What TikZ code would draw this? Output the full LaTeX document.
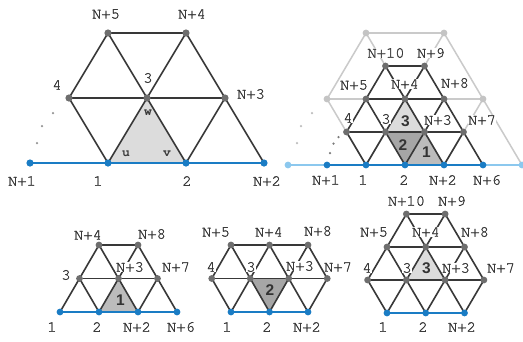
\documentclass[tikz,border=0pt]{standalone}
\usepackage{fontspec}
\newfontfamily\labmono[FakeBold=1.4]{texgyrecursor-regular.otf}
\newfontfamily\labmonob{texgyrecursor-bold.otf}
\newfontfamily\labsans{Liberation Sans}
\definecolor{edgec}{HTML}{383838}
\definecolor{lightc}{HTML}{CACACA}
\definecolor{dotc}{HTML}{6E6E6E}
\definecolor{lightdot}{HTML}{C4C4C4}
\definecolor{bluec}{HTML}{1A7CC4}
\definecolor{lblue}{HTML}{8CC8EE}
\definecolor{txtc}{HTML}{3A3A3A}
\definecolor{shA}{HTML}{DCDCDC}
\definecolor{shB}{HTML}{A6A6A6}
\definecolor{shC}{HTML}{BCBCBC}
\definecolor{pdark}{HTML}{7A7A7A}
\definecolor{plight}{HTML}{BDBDBD}
\tikzset{
  edge/.style={draw=edgec,line width=1.6pt},
  ledge/.style={draw=lightc,line width=1.5pt},
  bedge/.style={draw=bluec,line width=1.6pt},
  lbedge/.style={draw=lblue,line width=1.6pt},
  gdot/.style={circle,fill=dotc,inner sep=0pt,minimum size=6.8pt},
  bdot/.style={circle,fill=bluec,inner sep=0pt,minimum size=6.8pt},
  ldot/.style={circle,fill=lightdot,inner sep=0pt,minimum size=6.8pt},
  lbdot/.style={circle,fill=lblue,inner sep=0pt,minimum size=6.8pt},
  pdot/.style={circle,fill=#1,inner sep=0pt,minimum size=2.5pt},
  lab/.style={font=\labmono\fontsize{15.5}{15.5}\selectfont,text=txtc,fill=white,inner sep=0.4pt},
  tnum/.style={font=\labsans\bfseries\fontsize{15.5}{15.5}\selectfont,text=black!80},
  uvw/.style={font=\labmonob\fontsize{13}{13}\selectfont,text=txtc,inner sep=0pt},
}
\begin{document}
\begin{tikzpicture}[x=1pt,y=-1pt]
\fill[white] (0,0) rectangle (523,341);
\useasboundingbox (0,0) rectangle (523,341);

% ---------------- Panel 1 ----------------
\begin{scope}[shift={(30,163)},x={(78pt,0pt)},y={(39pt,65pt)}]
  \coordinate (a-N1) at (0,0); \coordinate (a-1) at (1,0);
  \coordinate (a-2) at (2,0);  \coordinate (a-N2) at (3,0);
  \coordinate (a-4) at (0,1);  \coordinate (a-3) at (1,1);
  \coordinate (a-N3) at (2,1);
  \coordinate (a-N5) at (0,2); \coordinate (a-N4) at (1,2);
\end{scope}
\fill[shA] (a-1) -- (a-2) -- (a-3) -- cycle;
\draw[bedge] (a-N1) -- (a-N2);
\draw[edge] (a-N5) -- (a-N4);
\draw[edge] (a-4) -- (a-N3);
\draw[edge] (a-1) -- (a-4) -- (a-N5);
\draw[edge] (a-N5) -- (a-3) -- (a-2);
\draw[edge] (a-N4) -- (a-3) -- (a-1);
\draw[edge] (a-N4) -- (a-N3) -- (a-N2);
\draw[edge] (a-N3) -- (a-2);
\foreach \v in {a-4,a-3,a-N3,a-N5,a-N4} \node[gdot,minimum size=7.2pt] (\v d) at (\v) {};
\foreach \v in {a-N1,a-1,a-2,a-N2} \node[bdot,minimum size=7.2pt] (\v d) at (\v) {};
\node[pdot=pdark!80] (a-p1) at (37,143) {};
\node[pdot=pdark!80] (a-p2) at (42,126) {};
\node[pdot=pdark!80] (a-p3) at (53,113) {};
\node[lab] (a-lN5) at (106,14) {N+5};
\node[lab] (a-lN4) at (192,14) {N+4};
\node[lab] (a-l4) at (57,85) {4};
\node[lab] (a-l3) at (148,78) {3};
\node[lab] (a-lN3) at (251,94) {N+3};
\node[lab] (a-lN1) at (22,181) {N+1};
\node[lab] (a-l1) at (98,181) {1};
\node[lab] (a-l2) at (187,181) {2};
\node[lab] (a-lN2) at (267,181) {N+2};
\node[uvw] (a-w) at (148,113) {w};
\node[uvw] (a-u) at (126,154) {u};
\node[uvw] (a-v) at (167,154) {v};

% ---------------- Panel 2 ----------------
\begin{scope}[shift={(327,165)},x={(39pt,0pt)},y={(19.5pt,33pt)}]
  \coordinate (b-N1) at (0,0); \coordinate (b-1) at (1,0);
  \coordinate (b-2) at (2,0);  \coordinate (b-N2) at (3,0);
  \coordinate (b-N6) at (4,0);
  \coordinate (b-4) at (0,1);  \coordinate (b-3) at (1,1);
  \coordinate (b-N3) at (2,1); \coordinate (b-N7) at (3,1);
  \coordinate (b-N5) at (0,2); \coordinate (b-N4) at (1,2);
  \coordinate (b-N8) at (2,2);
  \coordinate (b-N10) at (0,3); \coordinate (b-N9) at (1,3);
  \coordinate (b-B0) at (-1,0); \coordinate (b-B3) at (5,0);
  \coordinate (b-M0) at (-1,2); \coordinate (b-M2) at (3,2);
  \coordinate (b-T0) at (-1,4); \coordinate (b-T1) at (1,4);
\end{scope}
% coarse mesh (light)
\draw[lbedge] (b-B0) -- (b-B3);
\draw[ledge] (b-T0) -- (b-T1);
\draw[ledge] (b-M0) -- (b-M2);
\draw[ledge] (b-M0) -- (b-1);
\draw[ledge] (b-M0) -- (b-T0);
\draw[ledge] (b-T0) -- (b-N4) -- (b-N2);
\draw[ledge] (b-T1) -- (b-N4) -- (b-1);
\draw[ledge] (b-T1) -- (b-M2) -- (b-B3);
\draw[ledge] (b-M2) -- (b-N2);
% shading
\fill[shA] (b-3) -- (b-N3) -- (b-N4) -- cycle;
\fill[shB] (b-3) -- (b-N3) -- (b-2) -- cycle;
\fill[shC] (b-2) -- (b-N2) -- (b-N3) -- cycle;
% fine mesh
\draw[bedge] (b-N1) -- (b-N6);
\draw[edge] (b-4) -- (b-N7);
\draw[edge] (b-N5) -- (b-N8);
\draw[edge] (b-N10) -- (b-N9);
\draw[edge] (b-1) -- (b-3) -- (b-N4) -- (b-N9);
\draw[edge] (b-2) -- (b-N3) -- (b-N8);
\draw[edge] (b-N2) -- (b-N7);
\draw[edge] (b-4) -- (b-N5) -- (b-N10);
\draw[edge] (b-1) -- (b-4);
\draw[edge] (b-2) -- (b-3) -- (b-N5);
\draw[edge] (b-N2) -- (b-N3) -- (b-N4) -- (b-N10);
\draw[edge] (b-N6) -- (b-N7) -- (b-N8) -- (b-N9);
\foreach \v in {b-M0,b-M2,b-T0,b-T1} \node[ldot] (\v d) at (\v) {};
\foreach \v in {b-B0,b-B3} \node[lbdot] (\v d) at (\v) {};
\foreach \v in {b-4,b-3,b-N3,b-N7,b-N5,b-N4,b-N8,b-N10,b-N9} \node[gdot] (\v d) at (\v) {};
\foreach \v in {b-N1,b-1,b-2,b-N2,b-N6} \node[bdot] (\v d) at (\v) {};
\node[pdot=plight] (b-p1) at (297,143) {};
\node[pdot=plight] (b-p2) at (301,126) {};
\node[pdot=plight] (b-p3) at (312,113) {};
\node[pdot=pdark] (b-p4) at (330,153) {};
\node[pdot=pdark] (b-p5) at (333.5,143.5) {};
\node[pdot=pdark] (b-p6) at (338.5,137) {};
\node[lab] (b-lN10) at (386,53) {N+10};
\node[lab] (b-lN9) at (431,53) {N+9};
\node[lab] (b-lN5) at (354,85) {N+5};
\node[lab] (b-lN4) at (405,84) {N+4};
\node[lab] (b-lN8) at (455,83) {N+8};
\node[lab] (b-l4) at (348,118) {4};
\node[lab] (b-l3) at (386,119) {3};
\node[lab] (b-lN3) at (438,120) {N+3};
\node[lab] (b-lN7) at (482,120) {N+7};
\node[lab] (b-lN1) at (326,180) {N+1};
\node[lab] (b-l1) at (363,180) {1};
\node[lab] (b-l2) at (404,180) {2};
\node[lab] (b-lN2) at (443,180) {N+2};
\node[lab] (b-lN6) at (487,180) {N+6};
\node[tnum] (b-t3) at (405.5,121.5) {3};
\node[tnum] (b-t2) at (403,145) {2};
\node[tnum] (b-t1) at (426.5,152) {1};

% ---------------- Panel 3 ----------------
\begin{scope}[shift={(60,312)},x={(39pt,0pt)},y={(19.5pt,33.5pt)}]
  \coordinate (c-1) at (0,0); \coordinate (c-2) at (1,0);
  \coordinate (c-N2) at (2,0); \coordinate (c-N6) at (3,0);
  \coordinate (c-3) at (0,1); \coordinate (c-N3) at (1,1);
  \coordinate (c-N7) at (2,1);
  \coordinate (c-N4) at (0,2); \coordinate (c-N8) at (1,2);
\end{scope}
\fill[shC] (c-2) -- (c-N2) -- (c-N3) -- cycle;
\draw[bedge] (c-1) -- (c-N6);
\draw[edge] (c-3) -- (c-N7);
\draw[edge] (c-N4) -- (c-N8);
\draw[edge] (c-1) -- (c-3) -- (c-N4);
\draw[edge] (c-2) -- (c-N3) -- (c-N8);
\draw[edge] (c-N2) -- (c-N7);
\draw[edge] (c-2) -- (c-3);
\draw[edge] (c-N2) -- (c-N3) -- (c-N4);
\draw[edge] (c-N6) -- (c-N7) -- (c-N8);
\foreach \v in {c-3,c-N3,c-N7,c-N4,c-N8} \node[gdot] (\v d) at (\v) {};
\foreach \v in {c-1,c-2,c-N2,c-N6} \node[bdot] (\v d) at (\v) {};
\node[lab] (c-lN4) at (88,235) {N+4};
\node[lab] (c-lN8) at (152,234) {N+8};
\node[lab] (c-l3) at (66,275) {3};
\node[lab] (c-lN3) at (130,267) {N+3};
\node[lab] (c-lN7) at (176,267) {N+7};
\node[lab] (c-l1) at (52,327) {1};
\node[lab] (c-l2) at (97,327) {2};
\node[lab] (c-lN2) at (137,327) {N+2};
\node[lab] (c-lN6) at (181,327) {N+6};
\node[tnum] (c-t1) at (120.5,300) {1};

% ---------------- Panel 4 ----------------
\begin{scope}[shift={(231,312)},x={(38.5pt,0pt)},y={(19.25pt,33.5pt)}]
  \coordinate (d-1) at (0,0); \coordinate (d-2) at (1,0);
  \coordinate (d-N2) at (2,0);
  \coordinate (d-4) at (-1,1); \coordinate (d-3) at (0,1);
  \coordinate (d-N3) at (1,1); \coordinate (d-N7) at (2,1);
  \coordinate (d-N5) at (-1,2); \coordinate (d-N4) at (0,2);
  \coordinate (d-N8) at (1,2);
\end{scope}
\fill[shB] (d-3) -- (d-N3) -- (d-2) -- cycle;
\draw[bedge] (d-1) -- (d-N2);
\draw[edge] (d-4) -- (d-N7);
\draw[edge] (d-N5) -- (d-N8);
\draw[edge] (d-4) -- (d-N5);
\draw[edge] (d-1) -- (d-3) -- (d-N4);
\draw[edge] (d-2) -- (d-N3) -- (d-N8);
\draw[edge] (d-N2) -- (d-N7);
\draw[edge] (d-1) -- (d-4);
\draw[edge] (d-2) -- (d-3) -- (d-N5);
\draw[edge] (d-N2) -- (d-N3) -- (d-N4);
\draw[edge] (d-N7) -- (d-N8);
\foreach \v in {d-4,d-3,d-N3,d-N7,d-N5,d-N4,d-N8} \node[gdot] (\v d) at (\v) {};
\foreach \v in {d-1,d-2,d-N2} \node[bdot] (\v d) at (\v) {};
\node[lab] (d-lN5) at (216,232) {N+5};
\node[lab] (d-lN4) at (269,232) {N+4};
\node[lab] (d-lN8) at (318,231) {N+8};
\node[lab] (d-l4) at (211,267) {4};
\node[lab] (d-l3) at (251,267) {3};
\node[lab] (d-lN3) at (300,266) {N+3};
\node[lab] (d-lN7) at (338,267) {N+7};
\node[lab] (d-l1) at (227,327) {1};
\node[lab] (d-l2) at (267,327) {2};
\node[lab] (d-lN2) at (307,327) {N+2};
\node[tnum] (d-t2) at (270,290) {2};

% ---------------- Panel 5 ----------------
\begin{scope}[shift={(387,313)},x={(38.75pt,0pt)},y={(19.375pt,33pt)}]
  \coordinate (e-1) at (0,0); \coordinate (e-2) at (1,0);
  \coordinate (e-N2) at (2,0);
  \coordinate (e-4) at (-1,1); \coordinate (e-3) at (0,1);
  \coordinate (e-N3) at (1,1); \coordinate (e-N7) at (2,1);
  \coordinate (e-N5) at (-1,2); \coordinate (e-N4) at (0,2);
  \coordinate (e-N8) at (1,2);
  \coordinate (e-N10) at (-1,3); \coordinate (e-N9) at (0,3);
\end{scope}
\fill[shA] (e-3) -- (e-N3) -- (e-N4) -- cycle;
\draw[bedge] (e-1) -- (e-N2);
\draw[edge] (e-4) -- (e-N7);
\draw[edge] (e-N5) -- (e-N8);
\draw[edge] (e-N10) -- (e-N9);
\draw[edge] (e-4) -- (e-N5) -- (e-N10);
\draw[edge] (e-1) -- (e-3) -- (e-N4) -- (e-N9);
\draw[edge] (e-2) -- (e-N3) -- (e-N8);
\draw[edge] (e-N2) -- (e-N7);
\draw[edge] (e-1) -- (e-4);
\draw[edge] (e-2) -- (e-3) -- (e-N5);
\draw[edge] (e-N2) -- (e-N3) -- (e-N4) -- (e-N10);
\draw[edge] (e-N7) -- (e-N8) -- (e-N9);
\foreach \v in {e-4,e-3,e-N3,e-N7,e-N5,e-N4,e-N8,e-N10,e-N9} \node[gdot] (\v d) at (\v) {};
\foreach \v in {e-1,e-2,e-N2} \node[bdot] (\v d) at (\v) {};
\node[lab] (e-lN10) at (406.5,201) {N+10};
\node[lab] (e-lN9) at (452,201) {N+9};
\node[lab] (e-lN5) at (374,232) {N+5};
\node[lab] (e-lN4) at (426,232) {N+4};
\node[lab] (e-lN8) at (475,232) {N+8};
\node[lab] (e-l4) at (367,268) {4};
\node[lab] (e-l3) at (407,268) {3};
\node[lab] (e-lN3) at (456,268) {N+3};
\node[lab] (e-lN7) at (501,268) {N+7};
\node[lab] (e-l1) at (383,327) {1};
\node[lab] (e-l2) at (423,327) {2};
\node[lab] (e-lN2) at (462,327) {N+2};
\node[tnum] (e-t3) at (426.5,268) {3};
\end{tikzpicture}
\end{document}
